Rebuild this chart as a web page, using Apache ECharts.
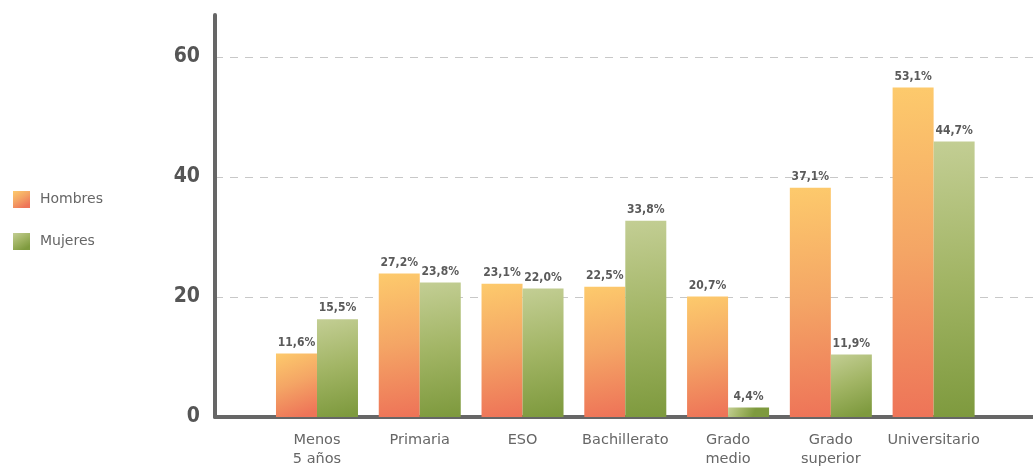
<!DOCTYPE html>
<html>
<head>
<meta charset="utf-8">
<script src="https://cdn.jsdelivr.net/npm/echarts@6/dist/echarts.min.js"></script>
<style>
  html, body { margin: 0; padding: 0; background: #fff; }
  #chart { width: 1033px; height: 469px; }
</style>
</head>
<body>
<div id="chart"></div>
<script>
// categories and values (bar heights, labels as printed)
const categories = ['Menos\n5 años', 'Primaria', 'ESO', 'Bachillerato', 'Grado\nmedio', 'Grado\nsuperior', 'Universitario']
const hombres = [10.6, 23.9, 22.2, 21.7, 20.1, 38.2, 54.9]
const mujeres = [16.3, 22.4, 21.4, 32.7, 1.6, 10.4, 45.9]
const hombresLabels = ['11,6%', '27,2%', '23,1%', '22,5%', '20,7%', '37,1%', '53,1%']
const mujeresLabels = ['15,5%', '23,8%', '22,0%', '33,8%', '4,4%', '11,9%', '44,7%']
const yTicks = [0, 20, 40, 60]

const font = 'DejaVu Sans'
const grad = (a, b, c) => new echarts.graphic.LinearGradient(0, 0, 0.6, 1, [
  {offset: 0, color: a},
  {offset: 0.5, color: b},
  {offset: 1, color: c},
])

const chart = echarts.init(document.getElementById('chart'))

const barLabel = texts => ({
  show: true,
  position: 'top',
  distance: 5,
  fontFamily: 'DejaVu Sans Condensed',
  fontWeight: 'bold',
  fontSize: 12,
  color: '#5a5a5a',
  formatter: p => texts[p.dataIndex],
})

chart.setOption({
  animation: false,
  legend: {
    orient: 'vertical',
    left: 8,
    top: 186,
    itemWidth: 17,
    itemHeight: 17,
    itemGap: 25,
    icon: 'rect',
    textStyle: {fontFamily: font, fontSize: 14, color: '#666', padding: [0, 0, 0, 5]},
    data: ['Hombres', 'Mujeres'],
  },
  grid: [
    {left: 215, right: 0, top: 15, bottom: 52},
    {left: 265.6, right: 48, top: 15, bottom: 52},
  ],
  xAxis: [
    {
      gridIndex: 0,
      type: 'value',
      min: 0,
      max: 1,
      axisLine: {show: true, lineStyle: {color: '#666', width: 4}},
      axisTick: {show: false},
      axisLabel: {show: false},
      splitLine: {show: false},
    },
    {
      gridIndex: 1,
      type: 'category',
      data: categories,
      axisLine: {show: false},
      axisTick: {show: false},
      axisLabel: {
        fontFamily: font,
        fontSize: 14.5,
        lineHeight: 19,
        color: '#666',
        margin: 14,
        interval: 0,
      },
    },
  ],
  yAxis: [
    {
      gridIndex: 0,
      type: 'value',
      min: 0,
      max: 67,
      interval: 20,
      axisLine: {show: true, lineStyle: {color: '#666', width: 4}},
      axisTick: {show: false},
      axisLabel: {
        margin: 15,
        fontFamily: 'DejaVu Sans Condensed',
        fontWeight: 'bold',
        fontSize: 21,
        color: '#555',
        showMaxLabel: false,
        formatter: v => yTicks.indexOf(v) >= 0 ? String(v) : '',
      },
      splitLine: {
        show: true,
        showMinLine: false,
        showMaxLine: false,
        lineStyle: {color: '#c8c8c8', type: [8, 7], width: 1},
      },
    },
    {
      gridIndex: 1,
      type: 'value',
      min: 0,
      max: 67,
      show: false,
    },
  ],
  series: [
    {
      name: 'Hombres',
      type: 'bar',
      xAxisIndex: 1,
      yAxisIndex: 1,
      barWidth: 41,
      barGap: '0%',
      data: hombres,
      itemStyle: {color: grad('#fdca6c', '#f4a565', '#ee7458')},
      label: barLabel(hombresLabels),
    },
    {
      name: 'Mujeres',
      type: 'bar',
      xAxisIndex: 1,
      yAxisIndex: 1,
      barWidth: 41,
      barGap: '0%',
      data: mujeres,
      itemStyle: {color: grad('#c3ce94', '#a2b565', '#7e9a3e')},
      label: barLabel(mujeresLabels),
    },
  ],
})
</script>
</body>
</html>
